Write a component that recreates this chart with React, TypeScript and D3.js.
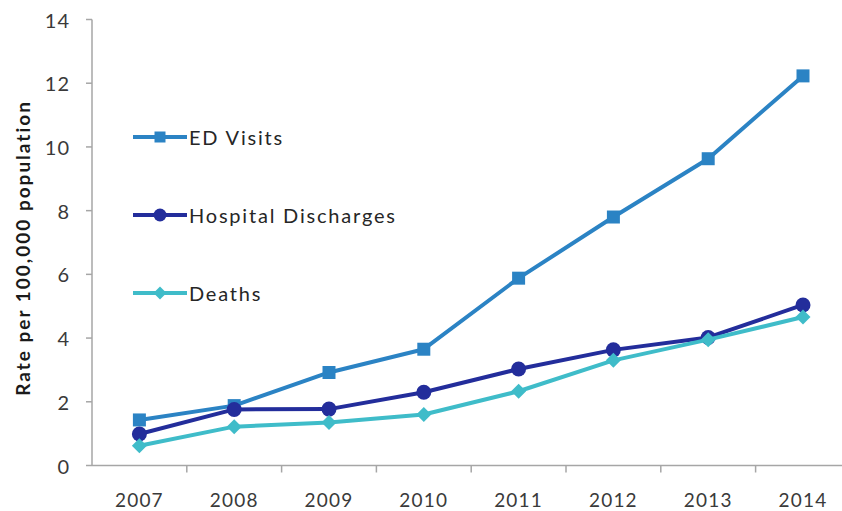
import React from 'react';
import * as d3 from 'd3';

const years = ['2007', '2008', '2009', '2010', '2011', '2012', '2013', '2014'];
const edVisits = [1.43, 1.88, 2.92, 3.65, 5.88, 7.8, 9.63, 12.23];
const hospitalDischarges = [0.99, 1.76, 1.77, 2.3, 3.03, 3.63, 4.02, 5.04];
const deaths = [0.62, 1.22, 1.35, 1.6, 2.33, 3.3, 3.95, 4.66];
const yTicks = [0, 2, 4, 6, 8, 10, 12, 14];
const seriesNames = ['ED Visits', 'Hospital Discharges', 'Deaths'];
const yTitle = 'Rate per 100,000 population';

const W = 842;
const H = 511;
const left = 92;
const band = 94.8;
const FONT = 'Lato, "Open Sans", sans-serif';
const TEXT = '#3a3a3a';
const AXIS = '#a6a6a6';

type Marker = 'square' | 'circle' | 'diamond';
const styles: { color: string; marker: Marker }[] = [
  { color: '#2b83c4', marker: 'square' },
  { color: '#232d9b', marker: 'circle' },
  { color: '#3fbcc9', marker: 'diamond' },
];

function markerPath(kind: Marker, s: number): string {
  if (kind === 'square') {
    return d3.symbol().type(d3.symbolSquare).size(s * s)()!;
  }
  if (kind === 'circle') {
    return d3.symbol().type(d3.symbolCircle).size(Math.PI * (s / 2) * (s / 2))()!;
  }
  const h = s / 2;
  return `M0,${-h}L${h},0L0,${h}L${-h},0Z`;
}

export default function App() {
  const x = d3
    .scaleBand<string>()
    .domain(years)
    .range([left, left + band * years.length])
    .paddingInner(0)
    .paddingOuter(0);
  const y = d3.scaleLinear().domain([0, 14]).range([465.5, 19.5]);
  const cx = (yr: string) => (x(yr) as number) + x.bandwidth() / 2;

  const allSeries = [edVisits, hospitalDischarges, deaths];
  const line = d3
    .line<number>()
    .x((_, i) => cx(years[i]))
    .y((d) => y(d));

  const legendY = [137, 215, 293];
  const sizes = [13, 15, 15];

  return (
    <svg
      width={W}
      height={H}
      style={{ position: 'absolute', left: 0, top: 0, background: '#fff' }}
      fontFamily={FONT}
    >
      <rect x={0} y={0} width={W} height={H} fill="#fff" />
      {/* Y axis */}
      <line x1={left} x2={left} y1={y(14)} y2={y(0)} stroke={AXIS} strokeWidth={1.5} />
      {yTicks.map((t) => (
        <g key={t}>
          <line x1={left - 6} x2={left} y1={y(t)} y2={y(t)} stroke={AXIS} strokeWidth={1.5} />
          <text
            x={70}
            y={y(t)}
            textAnchor="end"
            dominantBaseline="central"
            fontSize={20}
            letterSpacing={1}
            fill={TEXT}
          >
            {t}
          </text>
        </g>
      ))}
      {/* X axis */}
      <line x1={left} x2={W} y1={y(0)} y2={y(0)} stroke={AXIS} strokeWidth={1.5} />
      {years.map((yr, i) =>
        i === 0 ? null : (
          <line
            key={'t' + yr}
            x1={x(yr) as number}
            x2={x(yr) as number}
            y1={y(0)}
            y2={y(0) + 7}
            stroke={AXIS}
            strokeWidth={1.5}
          />
        )
      )}
      {years.map((yr) => (
        <text
          key={yr}
          x={cx(yr)}
          y={507}
          textAnchor="middle"
          fontSize={19}
          letterSpacing={1.2}
          fill={TEXT}
        >
          {yr}
        </text>
      ))}
      {/* Y title */}
      <text
        transform={`translate(30,248) rotate(-90)`}
        textAnchor="middle"
        fontSize={19}
        fontWeight="bold"
        letterSpacing={2}
        fill="#1a1a1a"
      >
        {yTitle}
      </text>
      {/* Series */}
      {allSeries.map((vals, si) => (
        <g key={si}>
          <path d={line(vals) || ''} fill="none" stroke={styles[si].color} strokeWidth={4} strokeLinejoin="round" />
          {vals.map((v, i) => (
            <path
              key={i}
              transform={`translate(${cx(years[i])},${y(v)})`}
              d={markerPath(styles[si].marker, sizes[si])}
              fill={styles[si].color}
            />
          ))}
        </g>
      ))}
      {/* Legend */}
      {seriesNames.map((name, si) => (
        <g key={name} transform={`translate(0,${legendY[si]})`}>
          <line x1={133} x2={187} y1={0} y2={0} stroke={styles[si].color} strokeWidth={4} />
          <path
            transform="translate(160,0)"
            d={markerPath(styles[si].marker, si === 0 ? 11 : 13)}
            fill={styles[si].color}
          />
          <text x={189} y={0} dominantBaseline="central" fontSize={20} letterSpacing={1.8} fill="#262626">
            {name}
          </text>
        </g>
      ))}
    </svg>
  );
}
